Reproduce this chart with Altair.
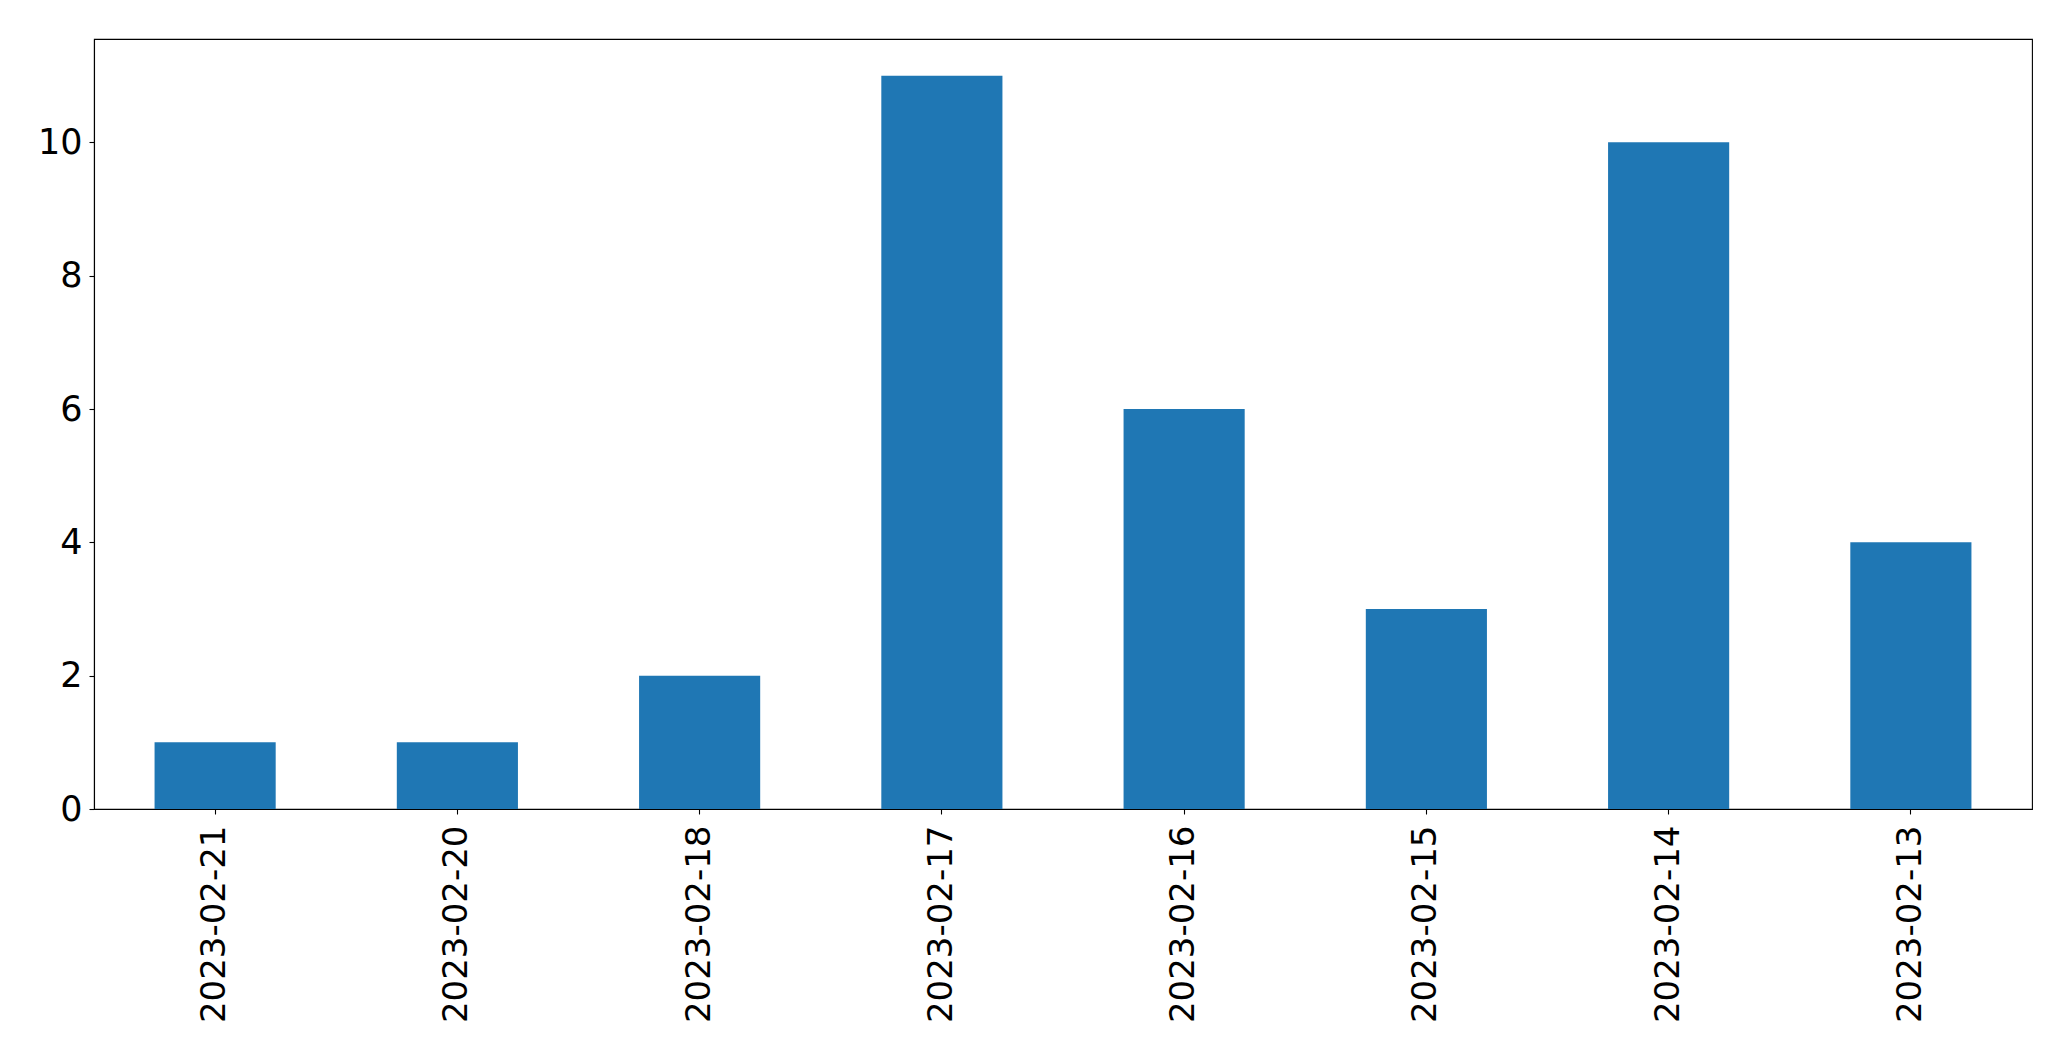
import altair as alt
import pandas as pd

dates = ["2023-02-21", "2023-02-20", "2023-02-18", "2023-02-17",
         "2023-02-16", "2023-02-15", "2023-02-14", "2023-02-13"]
counts = [1, 1, 2, 11, 6, 3, 10, 4]
y_ticks = [0, 2, 4, 6, 8, 10]

df = pd.DataFrame({"date": dates, "count": counts})

chart = alt.Chart(df).mark_bar(color="#1f77b4").encode(
    x=alt.X("date:N", sort=dates, title=None,
            scale=alt.Scale(paddingInner=0.5, paddingOuter=0.25),
            axis=alt.Axis(labelAngle=-90, labelFontSize=34, labelFont="DejaVu Sans",
                          labelColor="black", tickColor="black", tickSize=5, tickWidth=1.1,
                          domainColor="black", domainWidth=1.1, labelPadding=11,
                          labelAlign="right", labelBaseline="middle", labelLimit=0)),
    y=alt.Y("count:Q", title=None,
            scale=alt.Scale(domain=[0, 11.55], nice=False, zero=True),
            axis=alt.Axis(values=y_ticks, grid=False, labelFontSize=35, labelFont="DejaVu Sans",
                          labelColor="black", tickColor="black", tickSize=5, tickWidth=1.1,
                          domainColor="black", domainWidth=1.1, labelPadding=7)),
).properties(
    width=1938, height=770,
    autosize=alt.AutoSizeParams(type="none"),
    padding={"left": 86, "top": 31, "right": 31, "bottom": 240},
).configure(
    background="white"
).configure_view(
    stroke="black", strokeWidth=1.1
)

chart.save("out.html", embed_options={"renderer": "svg", "actions": False})
